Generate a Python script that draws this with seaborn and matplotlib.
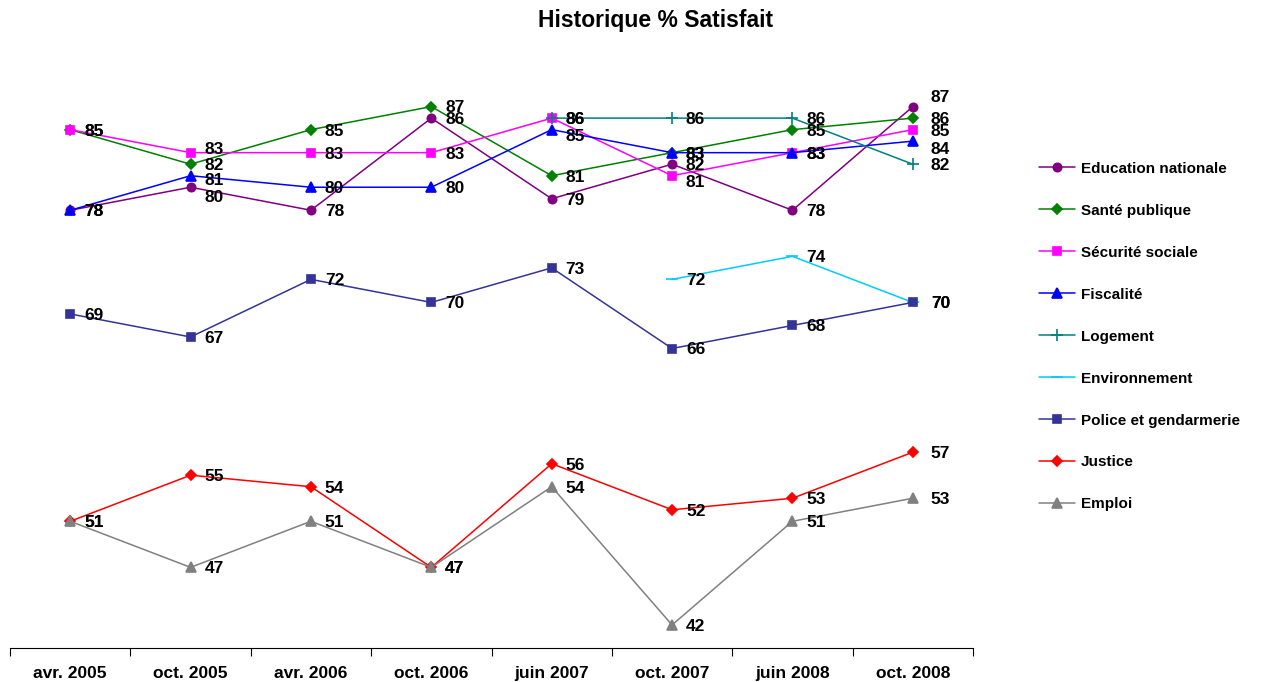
import numpy as np
import pandas as pd
import matplotlib
matplotlib.use("Agg")
import matplotlib.pyplot as plt
import seaborn as sns

categories = ["avr. 2005", "oct. 2005", "avr. 2006", "oct. 2006",
              "juin 2007", "oct. 2007", "juin 2008", "oct. 2008"]

nan = np.nan
education = [78, 80, 78, 86, 79, 82, 78, 87]
sante = [85, 82, 85, 87, 81, 83, 85, 86]
securite = [85, 83, 83, 83, 86, 81, 83, 85]
fiscalite = [78, 81, 80, 80, 85, 83, 83, 84]
logement = [nan, nan, nan, nan, 86, 86, 86, 82]
environnement = [nan, nan, nan, nan, nan, 72, 74, 70]
police = [69, 67, 72, 70, 73, 66, 68, 70]
justice = [51, 55, 54, 47, 56, 52, 53, 57]
emploi = [51, 47, 51, 47, 54, 42, 51, 53]

series_names = ["Education nationale", "Santé publique", "Sécurité sociale",
                "Fiscalité", "Logement", "Environnement",
                "Police et gendarmerie", "Justice", "Emploi"]
series_values = [education, sante, securite, fiscalite, logement,
                 environnement, police, justice, emploi]
colors = ["#800080", "#008000", "#FF00FF", "#0000FF", "#008080",
          "#00CCFF", "#333399", "#FF0000", "#808080"]
markers = ["o", "D", "s", "^", "+", "_", "s", "D", "^"]
msizes = [6, 5, 6, 7, 8, 8, 6, 5, 7]

# small vertical nudges (in pixels, positive = down) for crowded labels
nudges = {("Sécurité sociale", 1): -5, ("Fiscalité", 1): 3,
          ("Education nationale", 1): 9, ("Fiscalité", 4): 5,
          ("Sécurité sociale", 5): 5, ("Education nationale", 7): -10,
          ("Fiscalité", 7): 7}

sns.set_theme(style="white")
plt.rcParams["font.family"] = ["Liberation Sans", "DejaVu Sans"]
plt.rcParams["text.color"] = "black"
plt.rcParams["xtick.color"] = "black"

fig = plt.figure(figsize=(12.69, 6.82), dpi=100)
ax = fig.add_axes([10/1269, 1-648/682, (973-10)/1269, (648-49)/682])

x_idx = np.arange(len(categories))
for name, vals, c, m, ms in zip(series_names, series_values, colors, markers, msizes):
    df = pd.DataFrame({"x": x_idx, "y": vals}).dropna()
    sns.lineplot(data=df, x="x", y="y", ax=ax, color=c, marker=m,
                 markersize=ms, markeredgecolor=c, markeredgewidth=1.2,
                 linewidth=1.1, label=name, sort=False)
    for xi, yi in zip(df["x"], df["y"]):
        dy = nudges.get((name, int(xi)), 0) * 0.72
        dx = 13 if xi == 7 else 10
        ax.annotate(f"{int(yi)}", (xi, yi), xytext=(dx, -1 - dy),
                    textcoords="offset points", va="center", ha="left",
                    fontsize=12.5, fontweight="bold", color="black")

ax.set_xlim(-0.5, 7.5)
ax.set_ylim(40, 92)
ax.set_yticks([])
ax.set_xticks(x_idx)
ax.set_xticklabels(categories, fontsize=12.5, fontweight="bold", color="black")
ax.set_xticks(np.arange(-0.5, 8, 1), minor=True)
ax.tick_params(axis="x", which="major", length=0, pad=13)
ax.tick_params(axis="x", which="minor", length=6, width=0.8, color="black",
               direction="out", bottom=True)
ax.set_xlabel("")
ax.set_ylabel("")
for s in ["top", "right", "left"]:
    ax.spines[s].set_visible(False)
ax.spines["bottom"].set_color("black")
ax.spines["bottom"].set_linewidth(0.8)

handles, labels = ax.get_legend_handles_labels()
ax.legend_.remove()
leg = fig.legend(handles, labels, loc="upper left",
                 bbox_to_anchor=(1025/1269, 1-148/682), frameon=False,
                 prop={"size": 11, "weight": "bold"}, labelspacing=1.83,
                 handlelength=2.4, handletextpad=0.35)
for t in leg.get_texts():
    t.set_color("black")

fig.text(656/1269, 1-21/682, "Historique % Satisfait", ha="center",
         va="center", fontsize=16.5, fontweight="bold", color="black")

fig.savefig("out.png", dpi=100)
